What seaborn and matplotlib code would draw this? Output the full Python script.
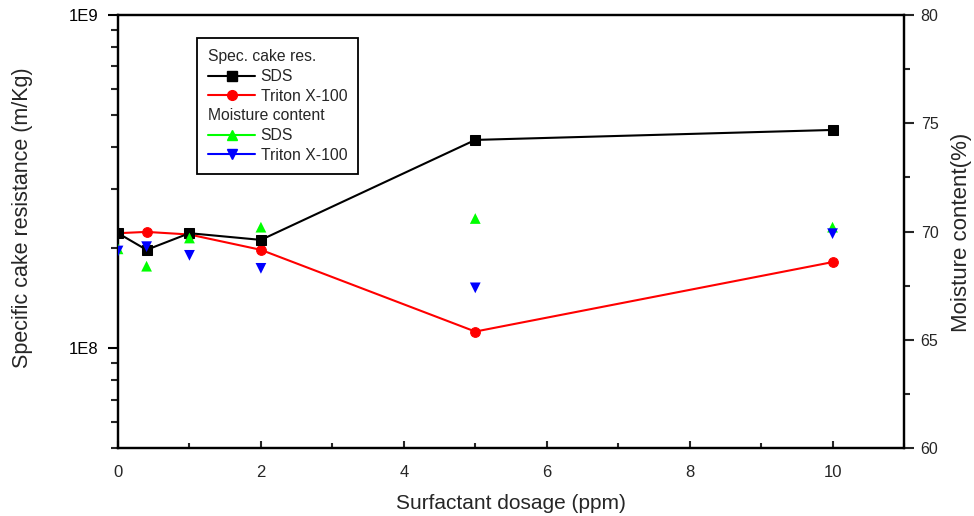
import matplotlib
matplotlib.use('Agg')
import matplotlib.pyplot as plt
import seaborn as sns
import pandas as pd
from matplotlib.lines import Line2D
from matplotlib.offsetbox import TextArea
from matplotlib.ticker import LogLocator, NullFormatter, MultipleLocator, FixedLocator

# ---- data ----
dosage = [0, 0.4, 1, 2, 5, 10]
res_sds = [2.21e8, 1.97e8, 2.21e8, 2.11e8, 4.21e8, 4.51e8]
res_triton = [2.21e8, 2.23e8, 2.19e8, 1.97e8, 1.12e8, 1.81e8]
moist_sds = [69.2, 68.4, 69.7, 70.2, 70.6, 70.2]
moist_triton = [69.1, 69.3, 68.9, 68.3, 67.4, 69.9]

left_ticks = [1e8, 1e9]
left_ticklabels = ['1E8', '1E9']
right_ticks = [60, 65, 70, 75, 80]
x_ticks = [0, 2, 4, 6, 8, 10]

df = pd.DataFrame({'dosage': dosage, 'res_sds': res_sds, 'res_triton': res_triton,
                   'moist_sds': moist_sds, 'moist_triton': moist_triton})

sns.set_style('ticks')
plt.rcParams['font.family'] = ['Liberation Sans', 'DejaVu Sans']

fig = plt.figure(figsize=(9.74, 5.16), dpi=100)
ax = fig.add_axes([0.12115, 0.1312, 0.80698, 0.84031])

sns.lineplot(data=df, x='dosage', y='res_sds', ax=ax, color='black', marker='s',
             markersize=7, markeredgecolor='black', linewidth=1.5, sort=False, zorder=3)
sns.lineplot(data=df, x='dosage', y='res_triton', ax=ax, color='#ff0000', marker='o',
             markersize=7, markeredgecolor='#ff0000', linewidth=1.5, sort=False, zorder=2)

ax.set_yscale('log')
ax.set_ylim(5e7, 1e9)
ax.set_xlim(0, 11)
ax.yaxis.set_major_locator(FixedLocator(left_ticks))
ax.set_yticklabels(left_ticklabels)
ax.yaxis.set_minor_locator(LogLocator(base=10, subs=range(2, 10)))
ax.yaxis.set_minor_formatter(NullFormatter())
ax.set_xticks(x_ticks)
ax.set_xticklabels([str(v) for v in x_ticks], fontsize=12)
ax.xaxis.set_minor_locator(MultipleLocator(1))

ax.tick_params(axis='y', which='major', direction='out', length=7, width=1.5,
               labelsize=12, pad=7, colors='black')
ax.tick_params(axis='y', which='minor', direction='out', length=5, width=1.5)
ax.tick_params(axis='x', which='major', direction='in', length=5, width=1.5, pad=12)
ax.tick_params(axis='x', which='minor', direction='in', length=3.5, width=1.5)
ax.tick_params(top=False, which='both')

for s in ax.spines.values():
    s.set_linewidth(1.6)
    s.set_color('black')

ax.set_xlabel('Surfactant dosage (ppm)', fontsize=15, labelpad=10)
ax.set_ylabel('Specific cake resistance (m/Kg)', fontsize=15.5)
ax.yaxis.set_label_coords(-0.108, 0.532)

ax2 = ax.twinx()
sns.scatterplot(data=df, x='dosage', y='moist_sds', ax=ax2, marker='^', color='#00ff00',
                s=60, edgecolor='none', zorder=3)
sns.scatterplot(data=df, x='dosage', y='moist_triton', ax=ax2, marker='v', color='#0000ff',
                s=60, edgecolor='none', zorder=4)
ax2.set_ylim(60, 80)
ax2.set_yticks(right_ticks)
ax2.yaxis.set_minor_locator(MultipleLocator(2.5))
ax2.tick_params(axis='y', which='major', direction='out', length=7, width=1.5,
                labelsize=11.5, pad=5)
ax2.tick_params(axis='y', which='minor', direction='out', length=4, width=1.5)
ax2.set_ylabel('Moisture content(%)', fontsize=16, rotation=90)
ax2.yaxis.set_label_coords(1.060, 0.497)
for s in ax2.spines.values():
    s.set_linewidth(1.6)
    s.set_color('black')
ax2.set_xlim(0, 11)

# ---- legend ----
blank = Line2D([], [], linestyle='none', marker=None)
handles = [
    blank,
    Line2D([], [], color='black', marker='s', markersize=7, linewidth=1.5),
    Line2D([], [], color='#ff0000', marker='o', markersize=7, linewidth=1.5),
    blank,
    Line2D([], [], color='#00ff00', marker='^', markersize=7, linewidth=1.5),
    Line2D([], [], color='#0000ff', marker='v', markersize=7, linewidth=1.5),
]
labels = ['Spec. cake res.', 'SDS', 'Triton X-100', 'Moisture content', 'SDS', 'Triton X-100']
leg = ax2.legend(handles, labels, loc='upper left', bbox_to_anchor=(0.1005, 0.9463),
                 borderaxespad=0, frameon=True, fancybox=False, framealpha=1,
                 edgecolor='black', fontsize=11.3, handlelength=3.0, handletextpad=0.33,
                 labelspacing=0.30, borderpad=0.72)
leg.get_frame().set_linewidth(1.3)

# header rows: drop the handle area so their text starts where handles start
try:
    col = leg._legend_handle_box.get_children()[0]
    rows = col.get_children()
    for i in (0, 3):
        hp = rows[i]
        hp._children = [c for c in hp.get_children() if isinstance(c, TextArea)]
except Exception:
    pass

fig.savefig('out.png', dpi=100)
